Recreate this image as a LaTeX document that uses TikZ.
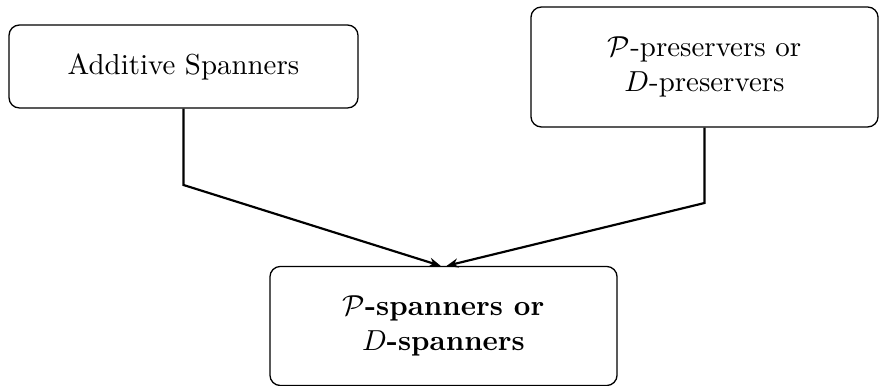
\documentclass[tikz,border=0pt]{standalone}
\usetikzlibrary{arrows.meta}
\begin{document}
\begin{tikzpicture}[x=0.346pt, y=-0.346pt,
  box/.style={draw, line width=0.45pt, rounded corners=3.6pt, align=center,
    inner sep=0pt, font=\normalsize},
  link/.style={line width=0.75pt, -{Stealth[length=4pt, width=3.2pt]}}]
  \useasboundingbox (0,0) rectangle (879,386);

  \node[box, minimum width=120.75pt, minimum height=28.7pt] (add) at (183.5,66.5)
    {Additive Spanners};
  \node[box, minimum width=120.1pt, minimum height=41.5pt] (pres) at (704.5,67)
    {$\mathcal{P}$-preservers or\\$D$-preservers};
  \node[box, minimum width=120.1pt, minimum height=41.2pt] (span) at (443.5,326)
    {\textbf{$\mathcal{P}$-spanners or}\\\textbf{$D$-spanners}};

  \coordinate (bendA) at (add.south |- 0,185);
  \coordinate (bendP) at (pres.south |- 0,203);
  \coordinate (tipA) at ([xshift=-1pt]span.north);
  \coordinate (tipP) at ([xshift=1.1pt]span.north);

  \draw[link] (add.south) -- (bendA) -- (tipA);
  \draw[link] (pres.south) -- (bendP) -- (tipP);
\end{tikzpicture}
\end{document}
